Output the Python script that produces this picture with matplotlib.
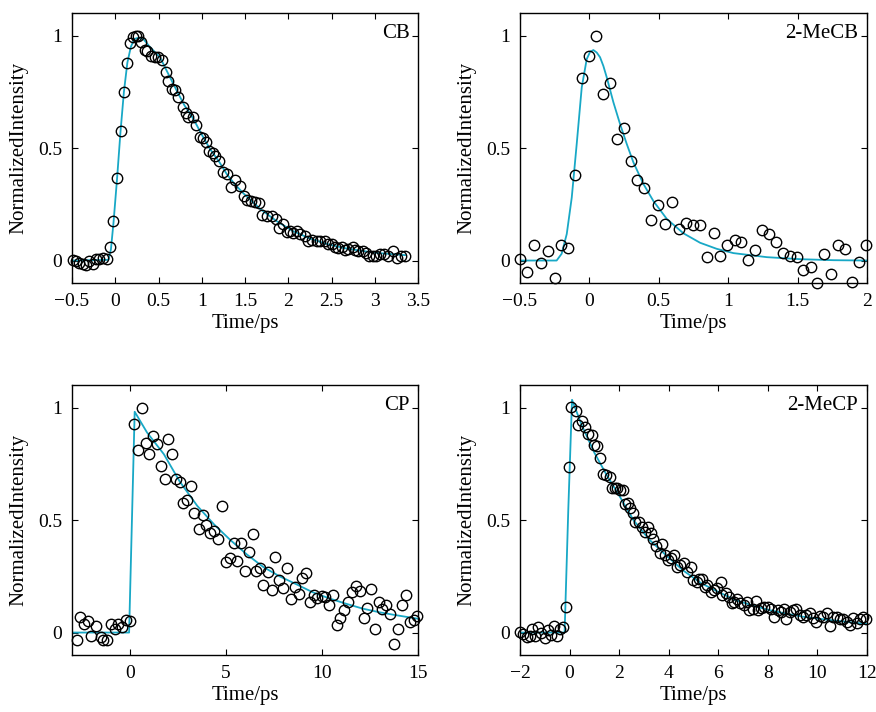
import numpy as np
import matplotlib.pyplot as plt

plt.rcParams['font.family'] = ['Liberation Serif', 'DejaVu Serif']
plt.rcParams['mathtext.fontset'] = 'stix'

FIT_COLOR = '#18a8c6'

# ---- CB ----
cb_t = [-0.492, -0.454, -0.415, -0.377, -0.338, -0.300, -0.261, -0.223, -0.184, -0.145,
        -0.099, -0.061, -0.022, 0.024, 0.063, 0.101, 0.140, 0.171, 0.201, 0.240, 0.267, 0.298,
        0.344, 0.371, 0.409, 0.460, 0.490, 0.544, 0.587, 0.614, 0.652, 0.691, 0.729, 0.779,
        0.814, 0.845, 0.895, 0.934, 0.980, 1.018, 1.049, 1.088, 1.126, 1.153, 1.203, 1.242,
        1.288, 1.334, 1.384, 1.442, 1.488, 1.527, 1.565, 1.616, 1.666, 1.700, 1.750, 1.808,
        1.858, 1.889, 1.943, 1.982, 2.020, 2.059, 2.105, 2.136, 2.194, 2.232, 2.271, 2.329,
        2.367, 2.425, 2.463, 2.502, 2.540, 2.579, 2.618, 2.656, 2.695, 2.745, 2.772, 2.810,
        2.860, 2.899, 2.937, 2.976, 3.014, 3.061, 3.107, 3.157, 3.215, 3.261, 3.300, 3.350]
cb_i = [0.003, 0.000, -0.012, -0.015, -0.018, 0.000, -0.015, 0.007, 0.007, 0.010,
        0.007, 0.062, 0.178, 0.366, 0.575, 0.751, 0.877, 0.967, 0.993, 0.997, 1.000, 0.970,
        0.936, 0.933, 0.911, 0.904, 0.904, 0.892, 0.837, 0.800, 0.763, 0.760, 0.729, 0.681,
        0.655, 0.640, 0.640, 0.604, 0.548, 0.545, 0.526, 0.489, 0.477, 0.467, 0.441, 0.393,
        0.385, 0.329, 0.356, 0.333, 0.289, 0.271, 0.264, 0.259, 0.255, 0.204, 0.200, 0.200,
        0.185, 0.145, 0.163, 0.126, 0.130, 0.121, 0.130, 0.116, 0.107, 0.086, 0.092, 0.089,
        0.086, 0.086, 0.074, 0.074, 0.062, 0.056, 0.059, 0.047, 0.052, 0.062, 0.047, 0.041,
        0.044, 0.033, 0.022, 0.022, 0.022, 0.030, 0.027, 0.018, 0.041, 0.012, 0.022, 0.018]
cb_fit_t = [-0.5, -0.08, -0.05, -0.02, 0.02, 0.06, 0.10, 0.14, 0.18, 0.22, 0.26, 0.30,
            0.325, 0.40, 0.517, 0.60, 0.71, 0.80, 0.903, 1.0, 1.095, 1.2, 1.288, 1.38, 1.481,
            1.673, 1.866, 2.059, 2.251, 2.444, 2.637, 2.829, 3.022, 3.215, 3.35]
cb_fit_i = [0.0, 0.003, 0.05, 0.17, 0.36, 0.57, 0.75, 0.88, 0.95, 0.985, 0.99, 0.988,
            0.985, 0.95, 0.904, 0.84, 0.756, 0.69, 0.630, 0.56, 0.496, 0.44, 0.385, 0.34, 0.299,
            0.230, 0.175, 0.130, 0.098, 0.074, 0.056, 0.044, 0.034, 0.028, 0.024]

# ---- 2-MeCB ----
mecb_t = [-0.500, -0.447, -0.399, -0.351, -0.300, -0.250, -0.202, -0.151, -0.101, -0.053,
          -0.002, 0.048, 0.099, 0.149, 0.197, 0.248, 0.298, 0.346, 0.397, 0.447, 0.498,
          0.548, 0.599, 0.647, 0.697, 0.748, 0.798, 0.846, 0.897, 0.945, 0.995, 1.046,
          1.096, 1.144, 1.195, 1.245, 1.296, 1.344, 1.394, 1.445, 1.495, 1.543, 1.594,
          1.644, 1.692, 1.743, 1.793, 1.844, 1.892, 1.942, 1.993]
mecb_i = [0.007, -0.049, 0.070, -0.010, 0.041, -0.079, 0.071, 0.055, 0.382, 0.810,
          0.911, 1.000, 0.741, 0.788, 0.541, 0.590, 0.441, 0.356, 0.323, 0.181, 0.249,
          0.163, 0.262, 0.141, 0.167, 0.160, 0.160, 0.015, 0.121, 0.018, 0.067, 0.092,
          0.081, 0.003, 0.047, 0.138, 0.116, 0.081, 0.033, 0.022, 0.015, -0.041, -0.030,
          -0.101, 0.030, -0.059, 0.070, 0.052, -0.096, -0.007, 0.067]
mecb_fit_t = [-0.5, -0.236, -0.2, -0.163, -0.127, -0.091, -0.055, -0.019, 0.005, 0.029,
              0.053, 0.077, 0.101, 0.125, 0.173, 0.221, 0.269, 0.317, 0.389, 0.462, 0.558,
              0.678, 0.798, 0.918, 1.038, 1.279, 1.519, 1.76, 2.0]
mecb_fit_i = [0.0, 0.0, 0.03, 0.118, 0.28, 0.52, 0.77, 0.896, 0.928, 0.936,
              0.925, 0.904, 0.865, 0.815, 0.704, 0.607, 0.519, 0.437, 0.341, 0.264, 0.185,
              0.121, 0.079, 0.052, 0.033, 0.015, 0.006, 0.0015, 0.0]

# ---- CP ----
cp_t = [-2.746, -2.573, -2.366, -2.159, -1.986, -1.762, -1.503, -1.364, -1.192, -0.984,
        -0.777, -0.587, -0.380, -0.190, 0.017, 0.225, 0.432, 0.622, 0.829, 1.019, 1.209,
        1.416, 1.606, 1.813, 2.003, 2.211, 2.401, 2.608, 2.798, 3.005, 3.212, 3.368, 3.592,
        3.800, 3.990, 4.197, 4.404, 4.594, 4.784, 4.991, 5.199, 5.406, 5.579, 5.786, 5.993,
        6.200, 6.408, 6.580, 6.788, 6.960, 7.185, 7.392, 7.582, 7.789, 7.997, 8.169, 8.377,
        8.601, 8.791, 8.964, 9.171, 9.378, 9.585, 9.758, 9.983, 10.173, 10.380, 10.587,
        10.794, 10.967, 11.174, 11.382, 11.554, 11.762, 11.969, 12.176, 12.366, 12.556,
        12.763, 12.953, 13.143, 13.351, 13.558, 13.765, 13.955, 14.145, 14.352, 14.560,
        14.767, 14.957]
cp_i = [-0.034, 0.069, 0.040, 0.052, -0.016, 0.028, -0.022, -0.031, -0.034, 0.037,
        0.018, 0.037, 0.025, 0.058, 0.052, 0.926, 0.811, 1.000, 0.845, 0.796, 0.874,
        0.838, 0.742, 0.681, 0.860, 0.793, 0.682, 0.668, 0.575, 0.589, 0.653, 0.532, 0.461,
        0.524, 0.480, 0.442, 0.453, 0.417, 0.564, 0.313, 0.332, 0.397, 0.318, 0.399, 0.272,
        0.357, 0.439, 0.272, 0.287, 0.210, 0.269, 0.191, 0.335, 0.235, 0.199, 0.287, 0.151,
        0.202, 0.173, 0.244, 0.264, 0.136, 0.165, 0.155, 0.161, 0.158, 0.121, 0.165,
        0.032, 0.065, 0.102, 0.136, 0.180, 0.207, 0.185, 0.066, 0.109, 0.192,
        0.018, 0.136, 0.106, 0.121, 0.084, -0.049, 0.018, 0.121, 0.165, 0.047,
        0.055, 0.072]
cp_fit_t = [-3.0, -0.03, 0.26, 0.9, 1.78, 2.6, 3.51, 4.4, 5.23, 6.1, 6.96, 7.8, 8.69,
            9.5, 10.41, 11.3, 12.14, 13.0, 13.87, 14.96]
cp_fit_i = [0.0, 0.0, 0.982, 0.89, 0.793, 0.672, 0.564, 0.480, 0.412, 0.347, 0.291,
            0.250, 0.214, 0.180, 0.151, 0.127, 0.106, 0.090, 0.077, 0.062]

# ---- 2-MeCP ----
mecp_t = [-2.000, -1.864, -1.729, -1.593, -1.526, -1.390, -1.268, -1.133, -0.997, -0.875,
          -0.740, -0.645, -0.509, -0.374, -0.252, -0.130, -0.035, 0.060, 0.249, 0.344,
          0.493, 0.629, 0.751, 0.886, 0.995, 1.117, 1.211, 1.333, 1.469, 1.631, 1.699,
          1.835, 1.930, 2.038, 2.146, 2.241, 2.377, 2.444, 2.580, 2.648, 2.783, 2.919,
          3.027, 3.149, 3.285, 3.366, 3.488, 3.637, 3.745, 3.867, 3.962, 4.098, 4.233,
          4.341, 4.477, 4.612, 4.748, 4.883, 4.992, 5.127, 5.222, 5.358, 5.453, 5.561,
          5.696, 5.832, 5.967, 6.103, 6.171, 6.306, 6.442, 6.550, 6.645, 6.753, 6.889,
          7.024, 7.160, 7.255, 7.390, 7.526, 7.593, 7.729, 7.864, 8.000, 8.136, 8.244,
          8.407, 8.515, 8.650, 8.745, 8.881, 9.016, 9.152, 9.287, 9.423, 9.558, 9.694,
          9.829, 9.965, 10.100, 10.236, 10.371, 10.507, 10.642, 10.778, 10.913, 11.049,
          11.184, 11.320, 11.455, 11.591, 11.726, 11.862, 11.980]
mecp_i = [0.001, -0.006, -0.018, -0.015, 0.015, -0.015, 0.024, -0.003, -0.025, 0.012,
          -0.010, 0.027, -0.015, 0.015, 0.024, 0.115, 0.734, 1.003, 0.985, 0.925,
          0.941, 0.914, 0.885, 0.877, 0.833, 0.828, 0.778, 0.707, 0.700, 0.692, 0.641,
          0.641, 0.645, 0.633, 0.633, 0.571, 0.577, 0.552, 0.530, 0.493, 0.493, 0.470,
          0.448, 0.470, 0.441, 0.414, 0.385, 0.352, 0.396, 0.345, 0.322, 0.330, 0.345,
          0.290, 0.300, 0.308, 0.271, 0.293, 0.234, 0.226, 0.237, 0.237, 0.204, 0.212,
          0.182, 0.189, 0.197, 0.226, 0.167, 0.175, 0.160, 0.130, 0.138, 0.149, 0.133,
          0.123, 0.138, 0.101, 0.104, 0.142, 0.101, 0.108, 0.115, 0.115, 0.104, 0.068,
          0.101, 0.093, 0.104, 0.059, 0.093, 0.101, 0.104, 0.078, 0.068, 0.078, 0.086,
          0.064, 0.049, 0.074, 0.068, 0.086, 0.030, 0.068, 0.068, 0.059, 0.059,
          0.049, 0.034, 0.064, 0.044, 0.059, 0.071, 0.059]
mecp_fit_t = [-2.0, -0.2, -0.05, 0.10, 0.5, 1.0, 1.5, 2.0, 2.58, 3.2, 3.96, 4.6, 5.32,
              6.0, 6.68, 7.4, 8.03, 8.7, 9.39, 10.1, 10.74, 11.4, 12.0]
mecp_fit_i = [0.0, 0.0, 0.55, 1.035, 0.92, 0.80, 0.70, 0.61, 0.50, 0.415, 0.337, 0.275,
              0.219, 0.181, 0.145, 0.120, 0.101, 0.085, 0.071, 0.061, 0.053, 0.045, 0.038]

panels = [
    ('CB', cb_t, cb_i, cb_fit_t, cb_fit_i, (-0.5, 3.5), np.arange(-0.5, 3.51, 0.5)),
    ('2-MeCB', mecb_t, mecb_i, mecb_fit_t, mecb_fit_i, (-0.5, 2.0), np.arange(-0.5, 2.01, 0.5)),
    ('CP', cp_t, cp_i, cp_fit_t, cp_fit_i, (-3, 15), [0, 5, 10, 15]),
    ('2-MeCP', mecp_t, mecp_i, mecp_fit_t, mecp_fit_i, (-2, 12), np.arange(-2, 12.1, 2)),
]

positions = [
    [0.0822, 0.6025, 0.395, 0.379],
    [0.5936, 0.6025, 0.396, 0.379],
    [0.0822, 0.0800, 0.395, 0.379],
    [0.5936, 0.0800, 0.396, 0.379],
]

fig = plt.figure(figsize=(8.76, 7.12), dpi=100)

for (name, t, inten, ft, fi, xlim, xticks), pos in zip(panels, positions):
    ax = fig.add_axes(pos)
    ax.plot(t, inten, 'o', mfc='none', mec='black', ms=7.5, mew=1.0, clip_on=False, zorder=3)
    ax.plot(ft, fi, '-', color=FIT_COLOR, lw=1.3, zorder=2)
    ax.set_xlim(*xlim)
    ax.set_ylim(-0.1, 1.1)
    ax.set_xticks(xticks)
    ax.set_xticklabels([('%g' % v).replace('-', '\u2212') for v in xticks])
    ax.set_yticks([0, 0.5, 1])
    ax.set_yticklabels(['0', '0.5', '1'])
    ax.tick_params(direction='in', top=True, right=True, length=4.5, width=0.8,
                   labelsize=14, pad=7)
    for s in ax.spines.values():
        s.set_linewidth(1.0)
    ax.set_xlabel('Time/ps', fontsize=15, labelpad=3)
    ax.set_ylabel('NormalizedIntensity', fontsize=15, labelpad=7)
    ax.text(0.975, 0.96, name, transform=ax.transAxes, ha='right', va='top', fontsize=15)

fig.savefig('out.png', dpi=100)
